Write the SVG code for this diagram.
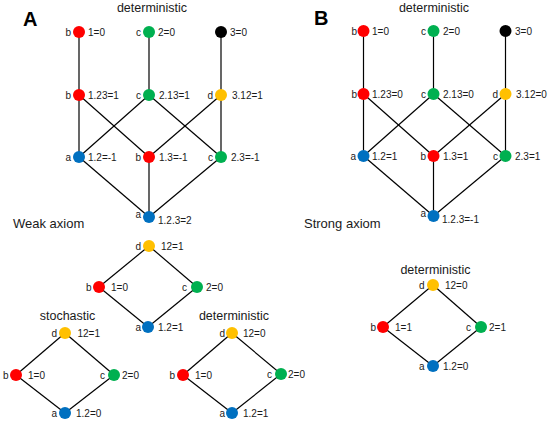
<svg xmlns="http://www.w3.org/2000/svg" width="550" height="424" viewBox="0 0 550 424">
<style>
text{font-family:"Liberation Sans",Arial,sans-serif;fill:#1a1a1a}
.t{font-size:12.5px}
.ax{font-size:13px}
.p{font-size:20px;font-weight:bold;fill:#000}
.l{font-size:10px}
.e{text-anchor:end}
.ed line{stroke:#000;stroke-width:1.2}
.r{fill:#ff0000}.g{fill:#00b050}.bl{fill:#0070c0}.y{fill:#ffc000}.k{fill:#000}
</style>
<rect width="550" height="424" fill="#fff"/>
<text class="p" x="23" y="26">A</text>
<text class="p" x="314" y="25">B</text>
<text class="t" x="152" y="12" text-anchor="middle">deterministic</text>
<text class="t" x="434" y="12" text-anchor="middle">deterministic</text>
<text class="ax" x="13" y="228">Weak axiom</text>
<text class="ax" x="304" y="228">Strong axiom</text>
<text class="t" x="67.5" y="320" text-anchor="middle">stochastic</text>
<text class="t" x="234" y="320" text-anchor="middle">deterministic</text>
<text class="t" x="435.5" y="274" text-anchor="middle">deterministic</text>

<g id="connectors" class="ed">
<line x1="79" y1="32" x2="79" y2="95"/>
<line x1="149" y1="32" x2="149" y2="95"/>
<line x1="221" y1="32" x2="221" y2="95"/>
<line x1="79" y1="95" x2="79" y2="157"/>
<line x1="79" y1="95" x2="149" y2="157"/>
<line x1="149" y1="95" x2="79" y2="157"/>
<line x1="149" y1="95" x2="221" y2="157"/>
<line x1="221" y1="95" x2="149" y2="157"/>
<line x1="221" y1="95" x2="221" y2="157"/>
<line x1="79" y1="157" x2="149" y2="217"/>
<line x1="149" y1="157" x2="149" y2="217"/>
<line x1="221" y1="157" x2="149" y2="217"/>

<line x1="363.5" y1="31" x2="363.5" y2="94"/>
<line x1="433.5" y1="31" x2="433.5" y2="94"/>
<line x1="505.5" y1="31" x2="505.5" y2="94"/>
<line x1="363.5" y1="94" x2="363.5" y2="156"/>
<line x1="363.5" y1="94" x2="433.5" y2="156"/>
<line x1="433.5" y1="94" x2="363.5" y2="156"/>
<line x1="433.5" y1="94" x2="505.5" y2="156"/>
<line x1="505.5" y1="94" x2="433.5" y2="156"/>
<line x1="505.5" y1="94" x2="505.5" y2="156"/>
<line x1="363.5" y1="156" x2="433.5" y2="216"/>
<line x1="433.5" y1="156" x2="433.5" y2="216"/>
<line x1="505.5" y1="156" x2="433.5" y2="216"/>

<line x1="149" y1="246" x2="99" y2="287"/>
<line x1="149" y1="246" x2="197" y2="287"/>
<line x1="99" y1="287" x2="148" y2="327"/>
<line x1="197" y1="287" x2="148" y2="327"/>

<line x1="65" y1="333" x2="16" y2="375"/>
<line x1="65" y1="333" x2="114" y2="375"/>
<line x1="16" y1="375" x2="65" y2="413"/>
<line x1="114" y1="375" x2="65" y2="413"/>

<line x1="232" y1="333" x2="183" y2="375"/>
<line x1="232" y1="333" x2="281" y2="374"/>
<line x1="183" y1="375" x2="232" y2="413"/>
<line x1="281" y1="374" x2="232" y2="413"/>

<line x1="433" y1="285" x2="383" y2="327"/>
<line x1="433" y1="285" x2="481" y2="327"/>
<line x1="383" y1="327" x2="433" y2="366"/>
<line x1="481" y1="327" x2="433" y2="366"/>
</g>

<!-- Panel A lattice -->
<g id="A1b"><circle class="r" cx="79" cy="32" r="6"/><text class="l e" x="71" y="35.5">b</text><text class="l" x="88" y="35.5">1=0</text></g>
<g id="A1c"><circle class="g" cx="149" cy="32" r="6"/><text class="l e" x="141" y="35.5">c</text><text class="l" x="158" y="35.5">2=0</text></g>
<g id="A1k"><circle class="k" cx="221" cy="32" r="6"/><text class="l" x="230" y="35.5">3=0</text></g>
<g id="A2b"><circle class="r" cx="79" cy="95" r="6"/><text class="l e" x="71" y="98.5">b</text><text class="l" x="88" y="98.5">1.23=1</text></g>
<g id="A2c"><circle class="g" cx="149" cy="95" r="6"/><text class="l e" x="141" y="98.5">c</text><text class="l" x="159" y="98.5">2.13=1</text></g>
<g id="A2d"><circle class="y" cx="221" cy="95" r="6"/><text class="l e" x="213" y="98.5">d</text><text class="l" x="232" y="98.5">3.12=1</text></g>
<g id="A3a"><circle class="bl" cx="79" cy="157" r="6"/><text class="l e" x="71" y="161">a</text><text class="l" x="88" y="161">1.2=-1</text></g>
<g id="A3b"><circle class="r" cx="149" cy="157" r="6"/><text class="l e" x="141" y="161">b</text><text class="l" x="159" y="161">1.3=-1</text></g>
<g id="A3c"><circle class="g" cx="221" cy="157" r="6"/><text class="l e" x="213" y="161">c</text><text class="l" x="231" y="161">2.3=-1</text></g>
<g id="A4a"><circle class="bl" cx="149" cy="217" r="6"/><text class="l e" x="141" y="218">a</text><text class="l" x="158" y="224">1.2.3=2</text></g>

<!-- Panel B lattice -->
<g id="B1b"><circle class="r" cx="363.5" cy="31" r="6"/><text class="l e" x="357" y="34.5">b</text><text class="l" x="372" y="34.5">1=0</text></g>
<g id="B1c"><circle class="g" cx="433.5" cy="31" r="6"/><text class="l e" x="426" y="34.5">c</text><text class="l" x="443" y="34.5">2=0</text></g>
<g id="B1k"><circle class="k" cx="505.5" cy="31" r="6"/><text class="l" x="515" y="34.5">3=0</text></g>
<g id="B2b"><circle class="r" cx="363.5" cy="94" r="6"/><text class="l e" x="357" y="97.5">b</text><text class="l" x="372" y="97.5">1.23=0</text></g>
<g id="B2c"><circle class="g" cx="433.5" cy="94" r="6"/><text class="l e" x="426" y="97.5">c</text><text class="l" x="443" y="97.5">2.13=0</text></g>
<g id="B2d"><circle class="y" cx="505.5" cy="94" r="6"/><text class="l e" x="498" y="97.5">d</text><text class="l" x="516" y="97.5">3.12=0</text></g>
<g id="B3a"><circle class="bl" cx="363.5" cy="156" r="6"/><text class="l e" x="356" y="160">a</text><text class="l" x="372" y="160">1.2=1</text></g>
<g id="B3b"><circle class="r" cx="433.5" cy="156" r="6"/><text class="l e" x="426" y="160">b</text><text class="l" x="443" y="160">1.3=1</text></g>
<g id="B3c"><circle class="g" cx="505.5" cy="156" r="6"/><text class="l e" x="498" y="160">c</text><text class="l" x="515" y="160">2.3=1</text></g>
<g id="B4a"><circle class="bl" cx="433.5" cy="216" r="6"/><text class="l e" x="426" y="217">a</text><text class="l" x="442" y="223">1.2.3=-1</text></g>

<!-- Weak axiom middle diamond -->
<g id="W1d"><circle class="y" cx="149" cy="246" r="6"/><text class="l e" x="141" y="249.5">d</text><text class="l" x="161" y="249.5">12=1</text></g>
<g id="W1b"><circle class="r" cx="99" cy="287" r="6"/><text class="l e" x="91.5" y="290.5">b</text><text class="l" x="111" y="290.5">1=0</text></g>
<g id="W1c"><circle class="g" cx="197" cy="287" r="6"/><text class="l e" x="187" y="290.5">c</text><text class="l" x="206" y="290.5">2=0</text></g>
<g id="W1a"><circle class="bl" cx="148" cy="327" r="6"/><text class="l e" x="141" y="330.5">a</text><text class="l" x="158" y="330.5">1.2=1</text></g>

<!-- stochastic diamond -->
<g id="S1d"><circle class="y" cx="65" cy="333" r="6"/><text class="l e" x="57" y="336.5">d</text><text class="l" x="77.5" y="336.5">12=1</text></g>
<g id="S1b"><circle class="r" cx="16" cy="375" r="6"/><text class="l e" x="8.5" y="378.5">b</text><text class="l" x="28" y="378.5">1=0</text></g>
<g id="S1c"><circle class="g" cx="114" cy="375" r="6"/><text class="l e" x="105" y="378.5">c</text><text class="l" x="122" y="378.5">2=0</text></g>
<g id="S1a"><circle class="bl" cx="65" cy="413" r="6"/><text class="l e" x="57" y="416.5">a</text><text class="l" x="76" y="416.5">1.2=0</text></g>

<!-- deterministic diamond A -->
<g id="D1d"><circle class="y" cx="232" cy="333" r="6"/><text class="l e" x="225" y="336.5">d</text><text class="l" x="243" y="336.5">12=0</text></g>
<g id="D1b"><circle class="r" cx="183" cy="375" r="6"/><text class="l e" x="175" y="378.5">b</text><text class="l" x="195" y="378.5">1=0</text></g>
<g id="D1c"><circle class="g" cx="281" cy="374" r="6"/><text class="l e" x="272" y="377.5">c</text><text class="l" x="288" y="377.5">2=0</text></g>
<g id="D1a"><circle class="bl" cx="232" cy="413" r="6"/><text class="l e" x="225" y="416.5">a</text><text class="l" x="243" y="416.5">1.2=1</text></g>

<!-- deterministic diamond B -->
<g id="D2d"><circle class="y" cx="433" cy="285" r="6"/><text class="l e" x="424.5" y="288.5">d</text><text class="l" x="445" y="288.5">12=0</text></g>
<g id="D2b"><circle class="r" cx="383" cy="327" r="6"/><text class="l e" x="376" y="330.5">b</text><text class="l" x="395" y="330.5">1=1</text></g>
<g id="D2c"><circle class="g" cx="481" cy="327" r="6"/><text class="l e" x="471" y="330.5">c</text><text class="l" x="489" y="330.5">2=1</text></g>
<g id="D2a"><circle class="bl" cx="433" cy="366" r="6"/><text class="l e" x="424.5" y="369.5">a</text><text class="l" x="443" y="369.5">1.2=0</text></g>
</svg>
